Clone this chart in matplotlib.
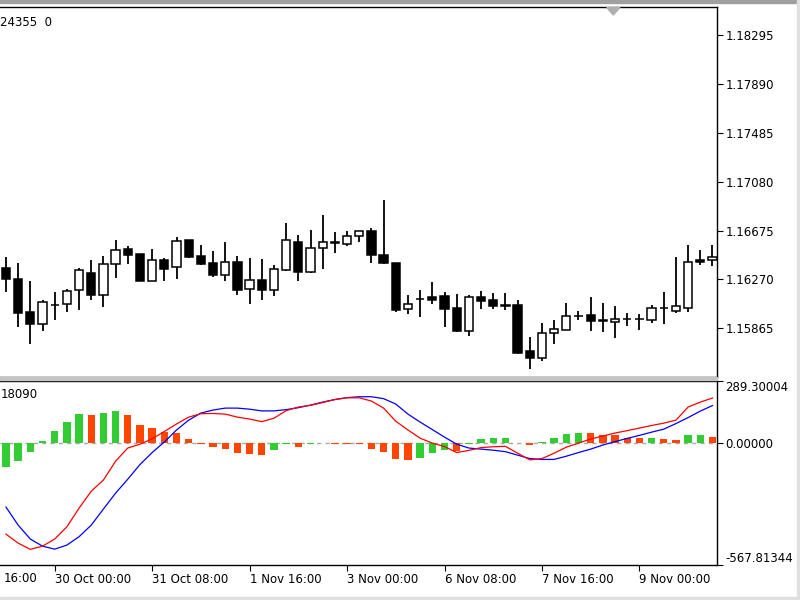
import matplotlib
matplotlib.use("Agg")
import matplotlib.pyplot as plt
import numpy as np
from matplotlib.patches import Polygon, Rectangle

# H4 candles, 27 Oct 08:00 .. 10 Nov 00:00
opens = [1.16368, 1.16276, 1.15996, 1.15901, 1.16055, 1.16069, 1.16180, 1.16326, 1.16138, 1.16398,
         1.16519, 1.16482, 1.16256, 1.16429, 1.16373, 1.16595, 1.16465, 1.16404, 1.16306, 1.16418,
         1.16192, 1.16264, 1.16180, 1.16345, 1.16583, 1.16331, 1.16527, 1.16576, 1.16561, 1.16628,
         1.16670, 1.16474, 1.16404, 1.16027, 1.16109, 1.16125, 1.16136, 1.16033, 1.15845, 1.16125,
         1.16096, 1.16056, 1.16055, 1.15675, 1.15618, 1.15823, 1.15851, 1.15966, 1.15971, 1.15930,
         1.15918, 1.15941, 1.15943, 1.15935, 1.16031, 1.16010, 1.16033, 1.16431, 1.16427]
highs = [1.16457, 1.16404, 1.16253, 1.16102, 1.16164, 1.16192, 1.16368, 1.16429, 1.16465, 1.16597,
         1.16547, 1.16484, 1.16522, 1.16444, 1.16620, 1.16601, 1.16558, 1.16507, 1.16583, 1.16465,
         1.16444, 1.16438, 1.16387, 1.16737, 1.16641, 1.16683, 1.16801, 1.16662, 1.16670, 1.16675,
         1.16695, 1.16927, 1.16408, 1.16144, 1.16186, 1.16251, 1.16167, 1.16150, 1.16144, 1.16172,
         1.16159, 1.16155, 1.16096, 1.15790, 1.15907, 1.15935, 1.16075, 1.16010, 1.16125, 1.16075,
         1.16046, 1.15991, 1.15982, 1.16060, 1.16164, 1.16457, 1.16558, 1.16516, 1.16558]
lows = [1.16164, 1.15873, 1.15733, 1.15845, 1.15935, 1.15999, 1.16013, 1.16102, 1.16038, 1.16278,
        1.16396, 1.16253, 1.16253, 1.16256, 1.16270, 1.16446, 1.16392, 1.16293, 1.16256, 1.16138,
        1.16063, 1.16102, 1.16130, 1.16341, 1.16256, 1.16320, 1.16360, 1.16488, 1.16547, 1.16583,
        1.16410, 1.16396, 1.15999, 1.15985, 1.15962, 1.16066, 1.15873, 1.15837, 1.15800, 1.16024,
        1.16024, 1.16016, 1.15655, 1.15524, 1.15591, 1.15731, 1.15847, 1.15935, 1.15845, 1.15831,
        1.15781, 1.15884, 1.15851, 1.15907, 1.15899, 1.15991, 1.15996, 1.16390, 1.16382]
closes = [1.16270, 1.15991, 1.15899, 1.16083, 1.16060, 1.16178, 1.16345, 1.16138, 1.16402, 1.16516,
          1.16471, 1.16256, 1.16429, 1.16354, 1.16591, 1.16457, 1.16396, 1.16304, 1.16418, 1.16180,
          1.16264, 1.16180, 1.16354, 1.16595, 1.16331, 1.16530, 1.16583, 1.16580, 1.16628, 1.16670,
          1.16474, 1.16404, 1.16018, 1.16066, 1.16111, 1.16102, 1.16024, 1.15842, 1.16125, 1.16088,
          1.16052, 1.16052, 1.15660, 1.15622, 1.15823, 1.15857, 1.15968, 1.15968, 1.15924, 1.15929,
          1.15943, 1.15945, 1.15945, 1.16033, 1.16034, 1.16046, 1.16415, 1.16417, 1.16460]

# MACD window
macd_main = [-424, -466, -495, -480, -447, -390, -303, -224, -172, -84,
             -23, -5, 20, 54, 89, 121, 137, 138, 135, 121,
             112, 100, 116, 151, 168, 176, 189, 203, 211, 211,
             196, 163, 102, 61, 23, 0, -16, -44, -34, -21,
             -17, -15, -47, -78, -72, -47, -19, 0, 19, 33,
             47, 58, 70, 82, 93, 107, 168, 191, 210]
macd_signal = [-298, -382, -447, -480, -494, -475, -436, -382, -307, -233,
               -168, -100, -44, 5, 61, 107, 140, 154, 163, 163,
               158, 150, 150, 156, 165, 177, 191, 203, 212, 216,
               216, 207, 182, 135, 98, 63, 28, -5, -23, -28,
               -33, -40, -56, -72, -76, -76, -61, -44, -28, -9,
               7, 22, 36, 51, 65, 91, 119, 149, 175]
macd_hist = [-110, -84, -42, 12, 56, 100, 134, 129, 141, 149,
             129, 84, 71, 53, 48, 20, -3, -19, -27, -47,
             -50, -56, -34, -3, -20, -2, -1, -2, -2.5, -3,
             -27, -40, -76, -80, -71, -45, -33, -36, -3, 20,
             24, 25, 2, -7, 3, 24, 42, 48, 46, 40,
             38, 24, 22, 26, 17, 15, 37, 38, 29]

price_ticks = [1.15865, 1.16270, 1.16675, 1.17080, 1.17485, 1.17890, 1.18295]
macd_ticks = [-567.81344, 0.0, 289.30004]
time_ticks = [4, 12, 20, 28, 36, 44, 52]
time_labels = ["30 Oct 00:00", "31 Oct 08:00", "1 Nov 16:00", "3 Nov 00:00",
               "6 Nov 08:00", "7 Nov 16:00", "9 Nov 00:00"]

W, H = 800, 600


def box(x0, y0, x1, y1):
    return [x0 / W, 1 - y1 / H, (x1 - x0) / W, (y1 - y0) / H]


fig = plt.figure(figsize=(8, 6), dpi=100, facecolor="white")
ax = fig.add_axes(box(0, 7, 717, 376.5))
ax2 = fig.add_axes(box(0, 381, 717, 565))

idx = np.arange(len(opens))
o = np.array(opens)
c = np.array(closes)
up = c >= o

# candles
ax.vlines(idx, lows, highs, color="black", lw=1.3, zorder=1)
ax.bar(idx, np.abs(c - o), bottom=np.minimum(o, c), width=0.68,
       color=np.where(up, "white", "black"), edgecolor="black", linewidth=1.1, zorder=2)

xlim = (-0.49, 58.37)
ax.set_xlim(*xlim)
ax.set_ylim(1.15465, 1.18529)
ax.yaxis.tick_right()
ax.set_yticks(price_ticks)
ax.set_yticklabels([f"{v:.5f}" for v in price_ticks])
ax.tick_params(axis="y", direction="out", length=4, width=0.8, pad=2, labelsize=8.5)
ax.tick_params(axis="x", bottom=False, labelbottom=False)
ax.spines["left"].set_visible(False)
for s in ["top", "right", "bottom"]:
    ax.spines[s].set_linewidth(1.0)

# macd
hist = np.array(macd_hist)
hcol = ["#32cd32"] + ["#32cd32" if hist[i] >= hist[i - 1] else "#ff4500" for i in range(1, len(hist))]
ax2.axhline(0, color="#a8a8a8", lw=1, ls=(0, (3, 3)), zorder=1)
ax2.bar(idx, hist, width=0.6, color=hcol, zorder=2)
ax2.plot(idx, macd_signal, color="#0000ff", lw=0.9, zorder=3)
ax2.plot(idx, macd_main, color="#ff0000", lw=0.9, zorder=4)

ax2.set_xlim(*xlim)
ax2.set_ylim(macd_ticks[0], macd_ticks[-1])
ax2.yaxis.tick_right()
ax2.set_yticks(macd_ticks)
ax2.set_yticklabels([f"{v:.5f}" for v in macd_ticks])
ax2.tick_params(axis="y", direction="out", length=4, width=0.8, pad=2, labelsize=8.5)
ylbl = ax2.get_yticklabels()
ylbl[0].set_va("bottom")
ylbl[-1].set_va("top")
ax2.set_xticks(time_ticks)
ax2.set_xticklabels(time_labels)
ax2.tick_params(axis="x", direction="out", length=4, width=0.8, pad=2, labelsize=8.5)
for lbl in ax2.get_xticklabels():
    lbl.set_ha("left")
ax2.spines["left"].set_visible(False)
for s in ["top", "right", "bottom"]:
    ax2.spines[s].set_linewidth(1.0)

# visible tail of the label left of the window
fig.text(4 / W, 1 - 579 / H, "16:00", fontsize=8.5, ha="left", va="center")

# header texts
fig.text(0.5 / W, 1 - 23 / H, "24355  0", fontsize=8.5, ha="left", va="center")
fig.text(0.5 / W, 1 - 394 / H, "18090", fontsize=8.5, ha="left", va="center")

# frame bits
fig.patches.append(Rectangle((0, 1 - 2.5 / H), 1, 2.5 / H, transform=fig.transFigure,
                             color="#a0a0a0", zorder=0))
fig.patches.append(Rectangle((0, 1 - 380 / H), 717 / W, 3 / H, transform=fig.transFigure,
                             color="#c4c4c4", zorder=0))
fig.patches.append(Rectangle((797 / W, 0), 3 / W, 1, transform=fig.transFigure,
                             color="#e0e0e0", zorder=0))
fig.patches.append(Rectangle((0, 0), 1, 3 / H, transform=fig.transFigure,
                             color="#e0e0e0", zorder=0))
tri = [(606.7 / W, 1 - 7.5 / H), (620 / W, 1 - 7.5 / H), (613.3 / W, 1 - 15 / H)]
fig.patches.append(Polygon(tri, closed=True, transform=fig.transFigure,
                           color="#b0b0b0", zorder=5))

fig.savefig("out.png", dpi=100)
